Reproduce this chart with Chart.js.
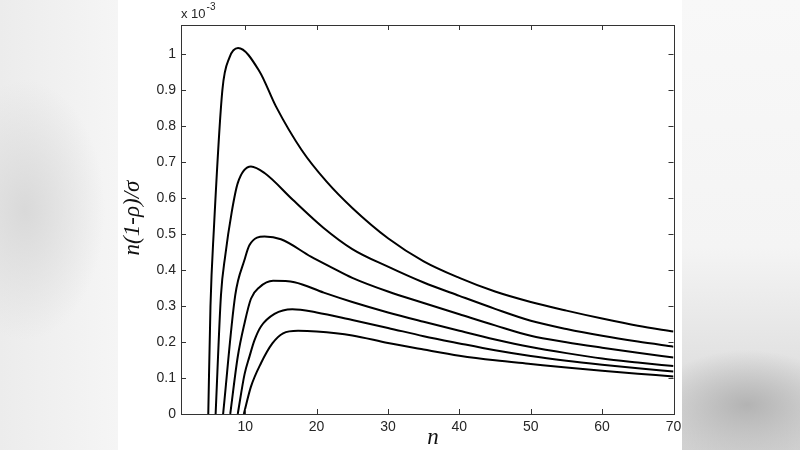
<!DOCTYPE html>
<html><head><meta charset="utf-8">
<script src="https://cdn.jsdelivr.net/npm/chart.js@4/dist/chart.umd.min.js"></script>
<style>
html,body{margin:0;padding:0;width:800px;height:450px;overflow:hidden;background:#fff;}
#bgL{position:absolute;left:0;top:0;width:118px;height:450px;
 background:radial-gradient(ellipse 80px 130px at 25px 210px,#d9d9d9,rgba(230,230,230,0)),linear-gradient(to right,#ececec,#f5f5f5);}
#bgR{position:absolute;left:682px;top:0;width:118px;height:450px;
 background:radial-gradient(ellipse 95px 55px at 65px 405px,#b3b3b3,rgba(200,200,200,0)),linear-gradient(to bottom,#f8f8f8 0%,#f4f4f4 55%,#e2e2e2 80%,#d0d0d0 100%);}
#c{position:absolute;left:0;top:0;}
</style></head>
<body>
<div id="bgL"></div><div id="bgR"></div>
<canvas id="c" width="800" height="450"></canvas>
<script>
// x positions (n) and values (x 10^-3) for each curve
const n1 = [4.82,5.13,5.6,6.8,7.8,9,12,14.3,17.9,21.4,25,30,35,40,45,50,55,60,65,70];
const v1 = [0,0.3,0.511,0.9,0.99,1.016,0.951,0.854,0.733,0.645,0.572,0.488,0.424,0.378,0.340,0.311,0.287,0.265,0.245,0.229];
const n2 = [5.85,6.6,7.2,8.1,8.95,10.8,12.7,16.7,20.9,25,30,35,40,45,50,55,60,65,70];
const v2 = [0,0.33,0.44,0.56,0.641,0.687,0.669,0.594,0.518,0.458,0.409,0.365,0.328,0.292,0.259,0.236,0.217,0.201,0.187];
const n3 = [6.9,8.6,9.9,10.6,12.7,15,19.2,22,25,30,35,40,45,50,55,60,65,70];
const v3 = [0,0.33,0.428,0.469,0.4925,0.485,0.437,0.408,0.378,0.340,0.308,0.277,0.246,0.217,0.199,0.184,0.170,0.157];
const n4 = [7.9,8.95,9.9,10.8,12,13.9,16.9,21,25,30,35,40,45,50,55,60,65,70];
const v4 = [0,0.159,0.252,0.32,0.352,0.37,0.366,0.337,0.311,0.282,0.256,0.231,0.207,0.186,0.169,0.154,0.143,0.133];
const n5 = [8.95,9.9,10.6,11.3,12.2,14.1,16.6,20,25,30,35,40,45,50,55,60,65,70];
const v5 = [0,0.11,0.16,0.205,0.243,0.278,0.291,0.282,0.261,0.239,0.216,0.196,0.177,0.161,0.148,0.137,0.127,0.118];
const n6 = [9.8,10.8,12.2,13.8,15.3,17.4,20,25,30,35,40,45,50,55,60,65,70];
const v6 = [0,0.076,0.141,0.196,0.224,0.231,0.229,0.218,0.197,0.179,0.162,0.149,0.139,0.129,0.120,0.112,0.104];

const xTicks = [10,20,30,40,50,60,70];
const yTicks = [0,0.1,0.2,0.3,0.4,0.5,0.6,0.7,0.8,0.9,1];
const yLabels = ['0','0.1','0.2','0.3','0.4','0.5','0.6','0.7','0.8','0.9','1'];
const xTitle = 'n';
const yTitle = 'n(1-ρ)/σ';
const scaleBase = 'x 10';
const scaleExp = '-3';

const series = [[n1,v1],[n2,v2],[n3,v3],[n4,v4],[n5,v5],[n6,v6]];

const frame = {
  id:'frame',
  afterDraw(chart){
    const c = chart.ctx, a = chart.chartArea;
    const xs = chart.scales.x, ys = chart.scales.y;
    c.save();
    c.strokeStyle = '#333';
    c.lineWidth = 1;
    c.strokeRect(Math.round(a.left)+0.5, Math.round(a.top)+0.5, Math.round(a.right-a.left), Math.round(a.bottom-a.top));
    c.beginPath();
    const tl = 5;
    xTicks.forEach(v=>{
      const px = Math.round(xs.getPixelForValue(v))+0.5;
      c.moveTo(px,a.bottom); c.lineTo(px,a.bottom-tl);
      c.moveTo(px,a.top); c.lineTo(px,a.top+tl);
    });
    yTicks.forEach(v=>{
      const py = Math.round(ys.getPixelForValue(v))+0.5;
      c.moveTo(a.left,py); c.lineTo(a.left+tl,py);
      c.moveTo(a.right,py); c.lineTo(a.right-tl,py);
    });
    c.stroke();
    // exponent label
    c.fillStyle = '#262626';
    c.textBaseline = 'alphabetic';
    c.textAlign = 'left';
    c.font = '13px "Liberation Sans", Arial, sans-serif';
    c.fillText(scaleBase, a.left, 18);
    const w = c.measureText(scaleBase).width;
    c.font = '10px "Liberation Sans", Arial, sans-serif';
    c.fillText(scaleExp, a.left + w + 1, 10);
    // titles
    c.fillStyle = '#111';
    c.font = 'italic 23px "Liberation Serif", "Times New Roman", serif';
    c.textAlign = 'center';
    c.textBaseline = 'middle';
    c.fillText(xTitle, 433, 438);
    c.translate(133, 218);
    c.rotate(-Math.PI/2);
    c.fillText(yTitle, 0, 0);
    c.restore();
  }
};

new Chart(document.getElementById('c'), {
  type:'line',
  data:{datasets: series.map(([ns,vs])=>({
    data: ns.map((n,i)=>({x:n,y:vs[i]})),
    borderColor:'#000', borderWidth:2, pointRadius:0, fill:false,
    cubicInterpolationMode:'monotone', clip:0
  }))},
  options:{
    responsive:false, animation:false,
    layout:{padding:{top:25,right:126.5,bottom:0,left:0}},
    plugins:{legend:{display:false},tooltip:{enabled:false}},
    scales:{
      x:{type:'linear',min:1,max:70,
        afterBuildTicks:s=>{s.ticks = xTicks.map(v=>({value:v}));},
        afterFit:s=>{s.height=36;},
        grid:{display:false,drawTicks:false}, border:{display:false},
        ticks:{padding:5,autoSkip:false,maxRotation:0,color:'#262626',font:{family:'"Liberation Sans", Arial, sans-serif',size:14}}
      },
      y:{type:'linear',min:0,max:1.08,
        afterBuildTicks:s=>{s.ticks = yTicks.map(v=>({value:v}));},
        afterFit:s=>{s.width=181;},
        grid:{display:false,drawTicks:false}, border:{display:false},
        ticks:{padding:5,autoSkip:false,color:'#262626',font:{family:'"Liberation Sans", Arial, sans-serif',size:14},
          callback:(v)=>{const i=yTicks.indexOf(v); return i>=0?yLabels[i]:'';}}
      }
    }
  },
  plugins:[frame]
});
</script>
</body></html>
